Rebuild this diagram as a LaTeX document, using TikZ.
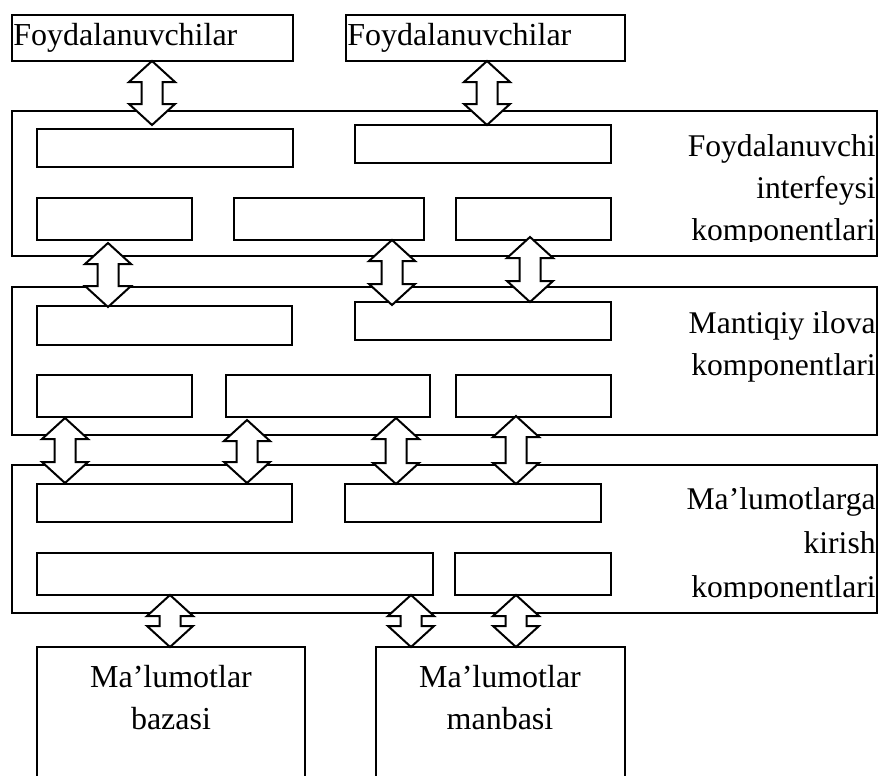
\documentclass[tikz,border=0pt]{standalone}
\usepackage{fontspec}
\setmainfont{Liberation Serif}
\usetikzlibrary{positioning,fit}

% block double arrow: x, top tip, bottom tip
\newcommand{\dblarr}[3]{%
  \draw[line width=1pt, fill=white, line join=miter]
    (#1,#2) -- (#1+23,#2+21) -- (#1+10.5,#2+21) -- (#1+10.5,#3-21)
    -- (#1+23,#3-21) -- (#1,#3) -- (#1-23,#3-21) -- (#1-10.5,#3-21)
    -- (#1-10.5,#2+21) -- (#1-23,#2+21) -- cycle;}

\begin{document}
\begin{tikzpicture}
  [x=0.5pt, y=-0.5pt,
   layer/.style={draw, line width=1pt, inner sep=0pt},
   slot/.style={draw, line width=1pt, inner sep=0pt},
   outbox/.style={draw, line width=0.6pt, inner sep=0pt},
   user/.style={anchor=base west, inner sep=0pt, font=\fontsize{16}{19}\selectfont},
   lbl/.style={inner sep=0pt, font=\fontsize{15.8}{21}\selectfont, align=right, anchor=north east},
   ext/.style={inner sep=0pt, font=\fontsize{16}{21}\selectfont, align=center, anchor=north}]
  \clip (0,0) rectangle (878,776);
  % users
  \node[outbox, fit={(12,15) (293,61)}] (u1) {};
  \node[outbox, fit={(346,15) (625,61)}] (u2) {};
  \node[user] (t1) at (13,45) {Foydalanuvchilar};
  \node[user] (t2) at (347,45) {Foydalanuvchilar};
  % user interface layer
  \node[layer, fit={(12,111) (877,256)}] (l1) {};
  \node[slot, fit={(37,129) (293,167)}] (s11) {};
  \node[slot, fit={(355,125) (611,163)}] (s12) {};
  \node[slot, fit={(37,198) (192,240)}] (s13) {};
  \node[slot, fit={(234,198) (424,240)}] (s14) {};
  \node[slot, fit={(456,198) (611,240)}] (s15) {};
  \begin{scope}
    \clip (620,111) rectangle (878,241);
    \node[lbl] (lab1) at (876,134) {Foydalanuvchi\\interfeysi\\komponentlari};
  \end{scope}
  % application logic layer
  \node[layer, fit={(12,287) (877,435)}] (l2) {};
  \node[slot, fit={(37,306) (292,345)}] (s21) {};
  \node[slot, fit={(355,302) (611,340)}] (s22) {};
  \node[slot, fit={(37,375) (192,417)}] (s23) {};
  \node[slot, fit={(226,375) (430,417)}] (s24) {};
  \node[slot, fit={(456,375) (611,417)}] (s25) {};
  \node[lbl] (lab2) at (876,311) {Mantiqiy ilova\\komponentlari};
  % data access layer
  \node[layer, fit={(12,465) (877,613)}] (l3) {};
  \node[slot, fit={(37,484) (292,522)}] (s31) {};
  \node[slot, fit={(345,484) (601,522)}] (s32) {};
  \node[slot, fit={(37,553) (433,595)}] (s33) {};
  \node[slot, fit={(455,553) (611,595)}] (s34) {};
  \begin{scope}
    \clip (620,465) rectangle (878,598);
    \node[lbl, font=\fontsize{15.8}{22}\selectfont] (lab3) at (876,487) {Ma’lumotlarga\\kirish\\komponentlari};
  \end{scope}
  % data stores
  \node[outbox, fit={(37,647) (305,800)}] (d1) {};
  \node[outbox, fit={(376,647) (625,800)}] (d2) {};
  \node[ext] (lab4) at (171,665) {Ma’lumotlar\\bazasi};
  \node[ext] (lab5) at (500,665) {Ma’lumotlar\\manbasi};
  % arrows between levels
  \dblarr{152}{61}{125}
  \dblarr{487}{61}{125}
  \dblarr{108}{243}{307}
  \dblarr{392}{240}{305}
  \dblarr{530}{237}{302}
  \dblarr{65}{418}{483}
  \dblarr{247}{420}{483}
  \dblarr{396}{418}{484}
  \dblarr{516}{416}{484}
  \dblarr{170}{595}{647}
  \dblarr{411}{595}{647}
  \dblarr{516}{595}{647}
\end{tikzpicture}
\end{document}
